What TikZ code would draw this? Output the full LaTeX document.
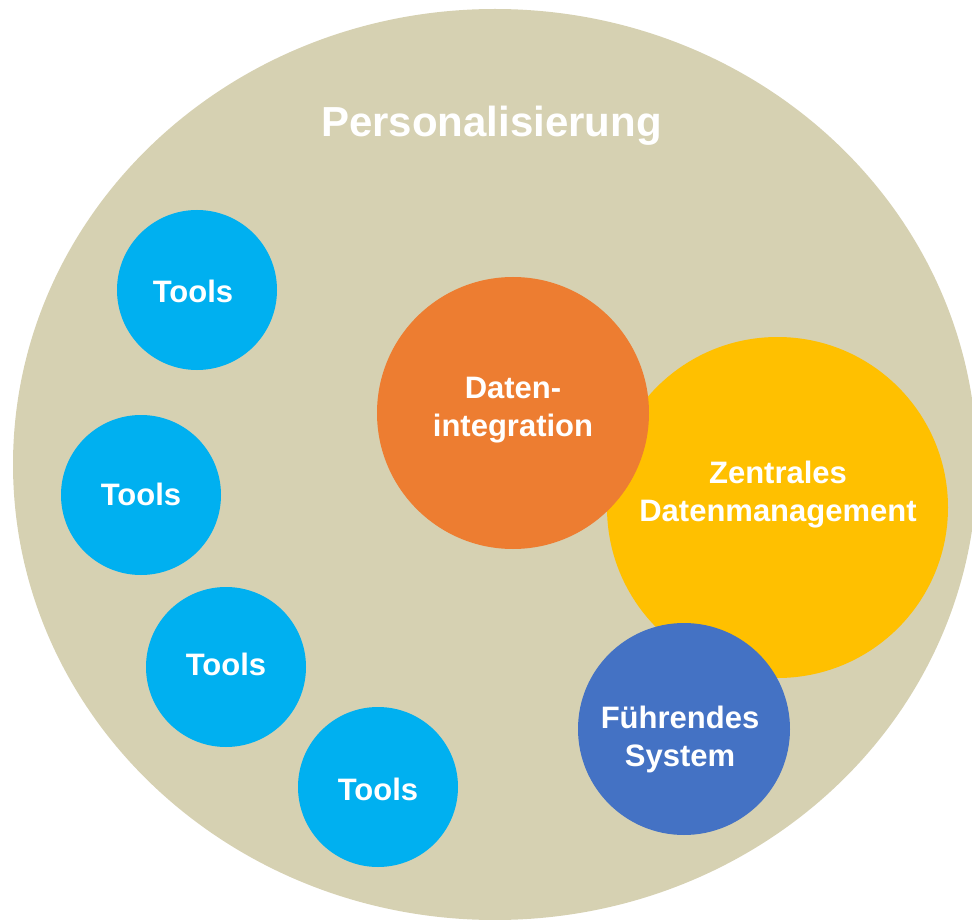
\documentclass[tikz,border=0pt]{standalone}
\usepackage{fontspec}
\setmainfont{Liberation Sans}
\usepackage{tikz}

\definecolor{persbeige}{RGB}{214,209,178}
\definecolor{toolcyan}{RGB}{0,176,240}
\definecolor{intorange}{RGB}{237,125,49}
\definecolor{zentgold}{RGB}{255,192,0}
\definecolor{fuehrblue}{RGB}{68,114,196}

\tikzset{
  bubbletext/.style={anchor=center, inner sep=0.75pt, align=center, text=white,
    font=\bfseries\fontsize{23.25pt}{28.5pt}\selectfont},
  toolstext/.style={bubbletext, anchor=base},
  titletext/.style={anchor=base, inner sep=0.75pt, text=white,
    font=\bfseries\fontsize{31.5pt}{36pt}\selectfont}
}

\begin{document}
\begin{tikzpicture}[x=0.75pt,y=0.75pt,yscale=-1,xscale=1]
	\useasboundingbox (0,0) rectangle (972,920);
	\clip (0,0) rectangle (972,920);

	%Shape: Ellipse [Personalisierung]
	\fill [persbeige] (495,464.5) ellipse [x radius=482, y radius=455.5];
	%Shape: Circle [Tools]
	\fill [toolcyan] (197,290) circle (80);
	\fill [toolcyan] (141,495) circle (80);
	\fill [toolcyan] (226,667) circle (80);
	\fill [toolcyan] (378,787) circle (80);
	%Shape: Circle [Zentrales Datenmanagement]
	\fill [zentgold] (777.5,507.5) circle (170.5);
	%Shape: Circle [Datenintegration]
	\fill [intorange] (513,413) circle (136);
	%Shape: Circle [Fuehrendes System]
	\fill [fuehrblue] (684,729) circle (106);

	% Text Node
	\node [titletext] (titel) at (491.5,137) {Personalisierung};
	% Text Node
	\node [toolstext] (tools1) at (193,302) {Tools};
	\node [toolstext] (tools2) at (141,505) {Tools};
	\node [toolstext] (tools3) at (226,675) {Tools};
	\node [toolstext] (tools4) at (378,800) {Tools};
	% Text Node
	\node [bubbletext] (datint) at (513,410) {Daten-\\integration};
	% Text Node
	\node [bubbletext] (zentral) at (778,495) {Zentrales\\Datenmanagement};
	% Text Node
	\node [bubbletext] (fuehrend) at (680,739) {Führendes\\System};

\end{tikzpicture}
\end{document}
